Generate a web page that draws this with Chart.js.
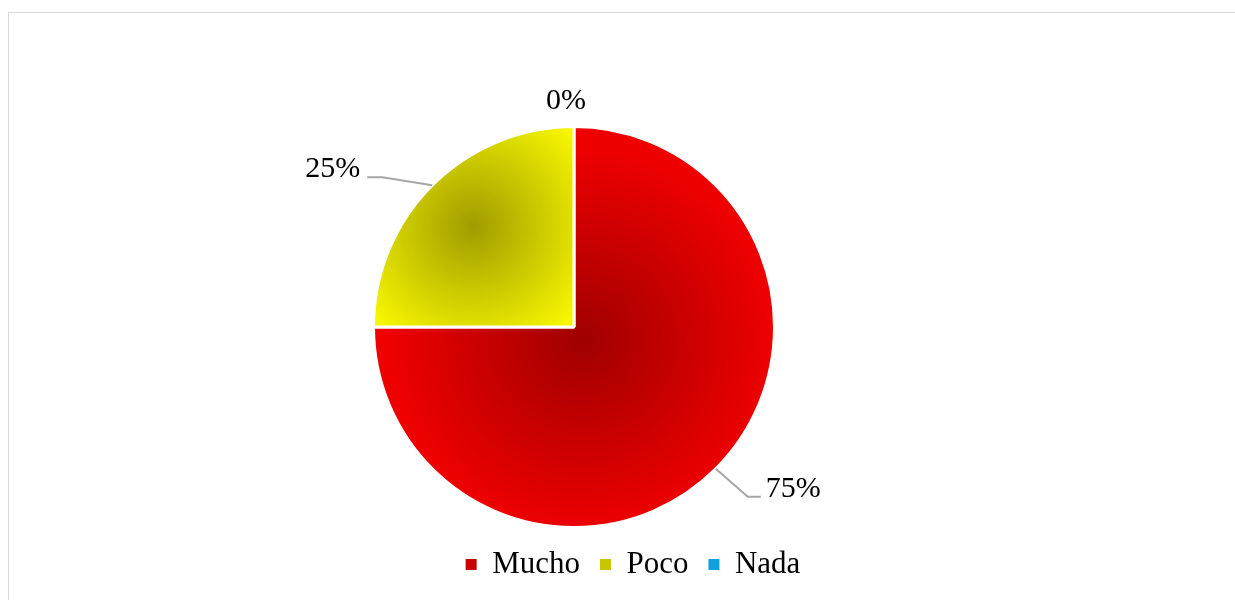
<!DOCTYPE html>
<html lang="es">
<head>
<meta charset="UTF-8">
<title>Pie</title>
<script src="https://cdn.jsdelivr.net/npm/chart.js"></script>
<style>
    body { margin: 0; background: #fff; overflow: hidden; }
    .frame { position: absolute; left: 8px; top: 12px; width: 1240px; height: 620px; border: 1px solid #d9d9d9; }
    .wrap { position: absolute; left: 0; top: 0; width: 1235px; height: 600px; }
</style>
</head>
<body>
<div class="frame"></div>
<div class="wrap"><canvas id="pieChart"></canvas></div>

<script>
    // === Data ===
    const labels = ['Mucho', 'Poco', 'Nada'];
    const values = [75, 25, 0];
    const percentLabels = ['75%', '25%', '0%'];

    // colours: [centre, edge] of each slice's radial shading
    const shades = [['#a00000', '#ee0000'], ['#a09c00', '#f6f600'], ['#0a9ad8', '#12a6e2']];
    const legendColors = ['#c80000', '#c8c400', '#0ea2dc'];

    const FONT = '"Liberation Serif", "Times New Roman", serif';

    // slice shading like the office chart (dark spot near the slice's middle)
    function sliceFill(c) {
        const area = c.chart.chartArea;
        const i = c.dataIndex;
        if (!area) return shades[i][1];
        const cx = (area.left + area.right) / 2;
        const cy = (area.top + area.bottom) / 2;
        const r = Math.min(area.width, area.height) / 2;
        let gx = cx, gy = cy, gr = r;
        if (i === 0) { gx = cx + r * 0.04; gy = cy + r * 0.065; gr = r * 0.95; }
        if (i === 1) { gx = cx - r * 0.5; gy = cy - r * 0.5; gr = r * 0.66; }
        const g = c.chart.ctx.createRadialGradient(gx, gy, 0, gx, gy, gr);
        g.addColorStop(0, shades[i][0]);
        g.addColorStop(1, shades[i][1]);
        return g;
    }

    // leader lines + percentage labels, offsets from the slice's outer edge
    const labelStyle = [
        { line: [[32, 28], [45, 28]], text: [50, 28], align: 'left' },
        { line: [[-50, -8], [-65, -8]], text: [-72, -8], align: 'right' },
        { line: null, text: [-8, -18], align: 'center' }
    ];

    const pieLabels = {
        id: 'pieLabels',
        afterDatasetsDraw(chart) {
            const ctx = chart.ctx;
            const arcs = chart.getDatasetMeta(0).data;
            ctx.save();
            ctx.font = '30px ' + FONT;
            ctx.fillStyle = '#000';
            ctx.textBaseline = 'alphabetic';
            arcs.forEach((arc, i) => {
                const p = arc.getProps(['x', 'y', 'startAngle', 'endAngle', 'outerRadius'], true);
                const mid = (p.startAngle + p.endAngle) / 2;
                const ex = p.x + Math.cos(mid) * p.outerRadius;
                const ey = p.y + Math.sin(mid) * p.outerRadius;
                const s = labelStyle[i];
                if (s.line) {
                    ctx.beginPath();
                    ctx.strokeStyle = '#a6a6a6';
                    ctx.lineWidth = 2;
                    ctx.moveTo(ex, ey);
                    s.line.forEach(pt => ctx.lineTo(ex + pt[0], ey + pt[1]));
                    ctx.stroke();
                }
                ctx.textAlign = s.align;
                ctx.fillText(percentLabels[i], ex + s.text[0], ey + s.text[1]);
            });
            ctx.restore();
        }
    };

    // nudge the legend row to the right, as in the original
    const legendShift = {
        id: 'legendShift',
        afterLayout(chart) {
            chart.legend.left += 59;
            chart.legend.right += 59;
        }
    };

    const ctx = document.getElementById('pieChart').getContext('2d');
    new Chart(ctx, {
        type: 'pie',
        data: {
            labels: labels,
            datasets: [{
                data: values,
                backgroundColor: sliceFill,
                borderColor: '#ffffff',
                borderWidth: 3
            }]
        },
        options: {
            responsive: true,
            maintainAspectRatio: false,
            animation: false,
            layout: { padding: { top: 125, bottom: 10, left: 174, right: 261 } },
            plugins: {
                tooltip: { enabled: false },
                legend: {
                    position: 'bottom',
                    labels: {
                        boxWidth: 11,
                        boxHeight: 11,
                        padding: 20,
                        color: '#000',
                        font: { family: FONT, size: 31 },
                        generateLabels: chart => Chart.overrides.pie.plugins.legend.labels.generateLabels(chart)
                            .map((l, i) => Object.assign(l, { fillStyle: legendColors[i], strokeStyle: legendColors[i], lineWidth: 0 }))
                    }
                }
            }
        },
        plugins: [pieLabels, legendShift]
    });
</script>
</body>
</html>
